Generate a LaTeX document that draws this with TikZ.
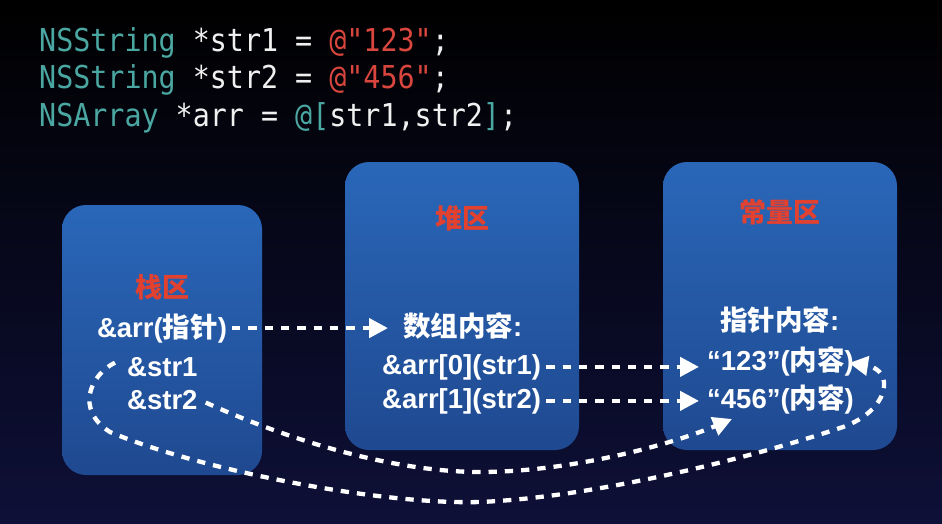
\documentclass[tikz,border=0pt]{standalone}
\usepackage{fontspec}
\setmainfont{Liberation Sans}
\newfontfamily\cjk{Noto Sans CJK SC}
\newfontfamily\codefont{DejaVu Sans Mono}[FakeStretch=0.9]
\usetikzlibrary{arrows.meta}
\definecolor{bgbot}{HTML}{0E1038}
\definecolor{bgmid}{HTML}{05050F}
\definecolor{boxtop}{HTML}{2A67B9}
\definecolor{boxbot}{HTML}{1F4990}
\definecolor{titlered}{HTML}{E2412F}
\definecolor{codeteal}{HTML}{4BA7A2}
\definecolor{codered}{HTML}{D9463D}
\definecolor{codewhite}{HTML}{F0F0F0}
\newcommand\zh[1]{{\cjk #1}}
\begin{document}
\begin{tikzpicture}[x=1pt,y=-1pt,
  membox/.style={rounded corners=24pt, top color=boxtop, bottom color=boxbot, draw=none, inner sep=0pt},
  codeline/.style={font=\codefont\fontsize{31.5}{31.5}\selectfont, text=codewhite, inner sep=0pt, anchor=base west},
  areatitle/.style={font=\cjk\bfseries\fontsize{27}{27}\selectfont, text=titlered, inner sep=0pt},
  lbl/.style={font=\bfseries\fontsize{27.5}{30}\selectfont, text=white, inner sep=0pt},
  conn/.style={draw=white, line width=4.3pt, dash pattern=on 8.3pt off 8pt, -{Triangle[length=19pt,width=19pt]}}
]
\useasboundingbox (0,0) rectangle (942,524);
\fill[top color=black, middle color=bgmid, bottom color=bgbot] (0,0) rectangle (942,524);

% code
\node[codeline] (c1) at (39,52) {\textcolor{codeteal}{NSString} *str1 = \textcolor{codered}{@"123"};};
\node[codeline] (c2) at (39,89) {\textcolor{codeteal}{NSString} *str2 = \textcolor{codered}{@"456"};};
\node[codeline] (c3) at (39,127) {\textcolor{codeteal}{NSArray} *arr = \textcolor{codeteal}{@[}str1,str2\textcolor{codeteal}{]};};

% boxes
\node[membox, minimum width=200pt, minimum height=270pt] (stack) at (162,340) {};
\node[membox, minimum width=234pt, minimum height=288pt] (heap) at (462,306) {};
\node[membox, minimum width=234pt, minimum height=288pt] (const) at (780,306) {};

% titles
\node[areatitle] (t1) at (162,287) {栈区};
\node[areatitle] (t2) at (462,218) {堆区};
\node[areatitle] (t3) at (780,212) {常量区};

% labels
\node[lbl, anchor=base] (ptr) at (162,337) {\&arr(\zh{指针})};
\node[lbl, anchor=base west] (s1) at (127,376) {\&str1};
\node[lbl, anchor=base west] (s2) at (127,409) {\&str2};
\node[lbl, anchor=base west] (cont) at (403,336) {\zh{数组内容}:};
\node[lbl, anchor=base west] (a0) at (382,374) {\&arr[0](str1)};
\node[lbl, anchor=base west] (a1) at (382,408) {\&arr[1](str2)};
\node[lbl, anchor=base west] (ptrc) at (720,330) {\zh{指针内容}:};
\node[lbl, anchor=base west] (q1) at (707,370) {“123”(\zh{内容})};
\node[lbl, anchor=base west] (q2) at (707,408) {“456”(\zh{内容})};

\coordinate (tipA) at (732,419);
\coordinate (tipB) at (849,363);

% connectors
\draw[conn, shorten <=5pt, shorten >=15pt] (ptr.east) -- (ptr.east -| cont.west);
\draw[conn, shorten <=5pt, shorten >=8pt] (a0.east) -- (a0.east -| q1.west);
\draw[conn, shorten <=5pt, shorten >=8pt] (a1.east) -- (a1.east -| q2.west);
\draw[conn] ([shift={(8,3)}]s2.east) .. controls (300,445) and (400,472) .. (480,472)
  .. controls (570,472) and (670,445) .. (tipA);
\draw[conn] ([shift={(-12,-4)}]s1.west) .. controls (90,375) and (75,410) .. (110,432)
  .. controls (200,470) and (380,505) .. (480,502)
  .. controls (600,497) and (760,455) .. (843,427)
  .. controls (890,410) and (895,370) .. (tipB);
\end{tikzpicture}
\end{document}
